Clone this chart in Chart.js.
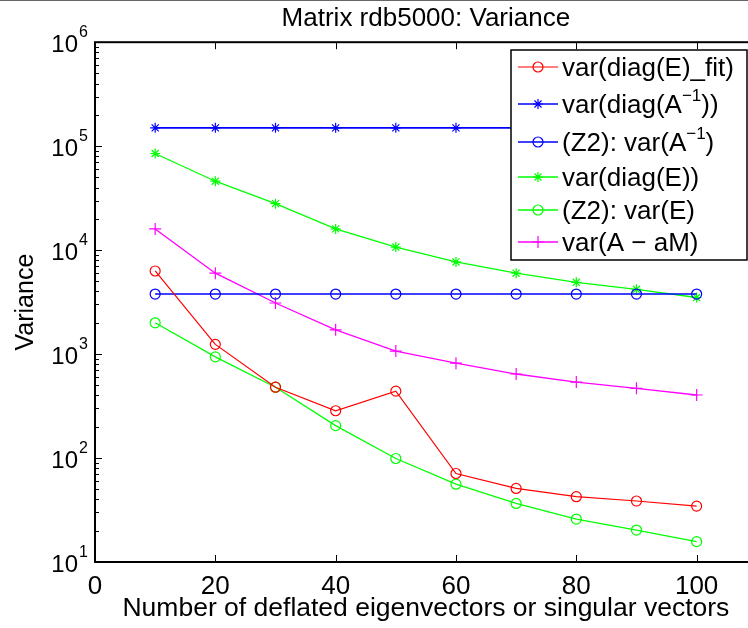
<!DOCTYPE html>
<html>
<head>
<meta charset="utf-8">
<script src="https://cdn.jsdelivr.net/npm/chart.js@4/dist/chart.umd.min.js"></script>
<style>
  html, body { margin: 0; padding: 0; background: #fff; }
  #wrap { position: relative; width: 748px; height: 628px; overflow: hidden; }
  #topline { position: absolute; left: 0; top: 0; width: 748px; height: 1px; background: #666; }
</style>
</head>
<body>
<div id="wrap">
  <canvas id="myChart" width="764" height="628"></canvas>
  <div id="topline"></div>
</div>
<script>
const xValues = [10, 20, 30, 40, 50, 60, 70, 80, 90, 100];
const varDiagEFit = [6300, 1240, 480, 285, 440, 71, 51, 42.5, 38.6, 34.5];
const varDiagAinv = [150000, 150000, 150000, 150000, 150000, 150000, 150000, 150000, 150000, 150000];
const z2VarAinv = [3780, 3780, 3780, 3780, 3780, 3780, 3780, 3780, 3780, 3780];
const varDiagE = [85000, 46000, 28000, 16000, 10700, 7700, 6000, 4900, 4200, 3500];
const z2VarE = [2000, 940, 480, 205, 99, 56, 36.6, 25.9, 20.3, 15.7];
const varAaM = [16000, 6000, 3100, 1710, 1070, 818, 643, 538, 468, 404];

const xTicks = [0, 20, 40, 60, 80, 100];
const yTickExps = [1, 2, 3, 4, 5, 6];

const seriesNames = [
    'var(diag(E)_fit)',
    'var(diag(A^{\u22121}))',
    '(Z2): var(A^{\u22121})',
    'var(diag(E))',
    '(Z2): var(E)',
    'var(A \u2212 aM)'
];

const FONT = "'Liberation Sans', Arial, Helvetica, sans-serif";
Chart.defaults.font.family = FONT;
Chart.defaults.color = '#000';

function toPoints(values) {
    return values.map((v, i) => ({ x: xValues[i], y: v }));
}

function makeSet(label, values, color, style, radius, width) {
    return {
        label,
        data: toPoints(values),
        borderColor: color,
        backgroundColor: 'rgba(0,0,0,0)',
        pointBorderColor: color,
        pointBackgroundColor: 'rgba(0,0,0,0)',
        pointStyle: style,
        pointRadius: radius,
        pointBorderWidth: 1.2,
        borderWidth: width,
        tension: 0
    };
}

// draws a marker like matlab's o, * and +
function drawMarker(ctx, style, x, y, r, color) {
    ctx.save();
    ctx.strokeStyle = color;
    ctx.lineWidth = 1.2;
    ctx.beginPath();
    if (style === 'circle') {
        ctx.arc(x, y, r, 0, Math.PI * 2);
    } else {
        const angles = style === 'star' ? [0, 45, 90, 135] : [0, 90];
        angles.forEach(a => {
            const rad = a * Math.PI / 180;
            ctx.moveTo(x - r * Math.cos(rad), y - r * Math.sin(rad));
            ctx.lineTo(x + r * Math.cos(rad), y + r * Math.sin(rad));
        });
    }
    ctx.stroke();
    ctx.restore();
}

// text with ^{...} superscripts
function drawRich(ctx, str, x, y, size) {
    const parts = str.split(/\^\{([^}]*)\}/);
    let cx = x;
    ctx.textAlign = 'left';
    ctx.textBaseline = 'middle';
    for (let i = 0; i < parts.length; i++) {
        if (!parts[i]) continue;
        const sup = i % 2 === 1;
        ctx.font = (sup ? Math.round(size * 0.65) : size) + 'px ' + FONT;
        const dy = sup ? -size * 0.38 : 0;
        ctx.fillText(parts[i], cx, y + dy);
        cx += ctx.measureText(parts[i]).width;
    }
}

function line(ctx, x1, y1, x2, y2) {
    ctx.beginPath();
    ctx.moveTo(x1, y1);
    ctx.lineTo(x2, y2);
    ctx.stroke();
}

const matlabAxes = {
    id: 'matlabAxes',
    afterDatasetsDraw(chart) {
        const { ctx, chartArea: a, scales } = chart;
        const xs = scales.x;
        const ys = scales.y;
        ctx.save();

        // axes box
        ctx.strokeStyle = '#000';
        ctx.lineWidth = 2;
        ctx.strokeRect(a.left, a.top, a.right - a.left, a.bottom - a.top);

        // x ticks, inside, top and bottom
        ctx.lineWidth = 1;
        xTicks.forEach(v => {
            const px = Math.round(xs.getPixelForValue(v)) + 0.5;
            line(ctx, px, a.bottom, px, a.bottom - 7);
            line(ctx, px, a.top, px, a.top + 7);
        });

        // y ticks, major + minor
        for (let e = 1; e <= 6; e++) {
            for (let m = 1; m <= 9; m++) {
                const v = m * Math.pow(10, e);
                if (v > 1e6) break;
                const py = Math.round(ys.getPixelForValue(v)) + 0.5;
                const len = m === 1 ? 7 : 4;
                line(ctx, a.left, py, a.left + len, py);
                line(ctx, a.right, py, a.right - len, py);
            }
        }

        // y tick labels 10^n
        ctx.fillStyle = '#000';
        yTickExps.forEach(e => {
            const py = ys.getPixelForValue(Math.pow(10, e));
            ctx.font = '24px ' + FONT;
            ctx.textAlign = 'right';
            ctx.textBaseline = 'middle';
            ctx.fillText('10', 78, py + 3);
            ctx.font = '16px ' + FONT;
            ctx.textAlign = 'left';
            ctx.textBaseline = 'alphabetic';
            ctx.fillText(String(e), 79, py - 5);
        });

        // legend box
        const lx = 511, ly = 50, lw = 236, lh = 210;
        ctx.fillStyle = '#fff';
        ctx.fillRect(lx, ly, lw, lh);
        ctx.strokeStyle = '#000';
        ctx.lineWidth = 1.5;
        ctx.strokeRect(lx, ly, lw, lh);

        const rows = [67, 104, 142, 177, 210, 242];
        chart.data.datasets.forEach((ds, i) => {
            const ry = rows[i];
            ctx.strokeStyle = ds.borderColor;
            ctx.lineWidth = ds.borderWidth;
            line(ctx, 518, ry, 558, ry);
            drawMarker(ctx, ds.pointStyle, 538, ry, ds.pointRadius, ds.borderColor);
            ctx.fillStyle = '#000';
            drawRich(ctx, seriesNames[i], 562, ry + 2, 26);
        });

        ctx.restore();
    }
};

const ctx = document.getElementById('myChart').getContext('2d');
new Chart(ctx, {
    type: 'line',
    data: {
        datasets: [
            makeSet(seriesNames[0], varDiagEFit, '#ff0000', 'circle', 5, 1.2),
            makeSet(seriesNames[1], varDiagAinv, '#0000ff', 'star', 5, 1.6),
            makeSet(seriesNames[2], z2VarAinv, '#0000ff', 'circle', 5, 1.6),
            makeSet(seriesNames[3], varDiagE, '#00ff00', 'star', 5, 1.3),
            makeSet(seriesNames[4], z2VarE, '#00ff00', 'circle', 5, 1.3),
            makeSet(seriesNames[5], varAaM, '#ff00ff', 'cross', 6, 1.3)
        ]
    },
    options: {
        responsive: false,
        animation: false,
        layout: { padding: { left: 0, right: 3, top: 0, bottom: 0 } },
        plugins: {
            legend: { display: false },
            tooltip: { enabled: false },
            title: {
                display: true,
                fullSize: false,
                text: 'Matrix rdb5000: Variance',
                color: '#000',
                font: { size: 26, weight: 'normal' },
                padding: { top: 3, bottom: 8 }
            }
        },
        scales: {
            x: {
                type: 'linear',
                min: 0,
                max: 110,
                afterBuildTicks(s) {
                    s.ticks = xTicks.map(v => ({ value: v }));
                },
                afterFit(s) {
                    s.height = 66;
                },
                ticks: { color: '#000', font: { size: 26 }, padding: 9, maxRotation: 0, autoSkip: false },
                grid: { display: false, drawTicks: false },
                border: { display: false },
                title: {
                    display: true,
                    text: 'Number of deflated eigenvectors or singular vectors',
                    color: '#000',
                    font: { size: 26.5 },
                    padding: { top: 0, bottom: 3 }
                }
            },
            y: {
                type: 'logarithmic',
                min: 10,
                max: 1e6,
                afterFit(s) {
                    s.width = 95;
                },
                ticks: { display: false },
                grid: { display: false, drawTicks: false },
                border: { display: false },
                title: {
                    display: true,
                    text: 'Variance',
                    color: '#000',
                    font: { size: 25 },
                    padding: { top: 11, bottom: 0 }
                }
            }
        }
    },
    plugins: [matlabAxes]
});
</script>
</body>
</html>
